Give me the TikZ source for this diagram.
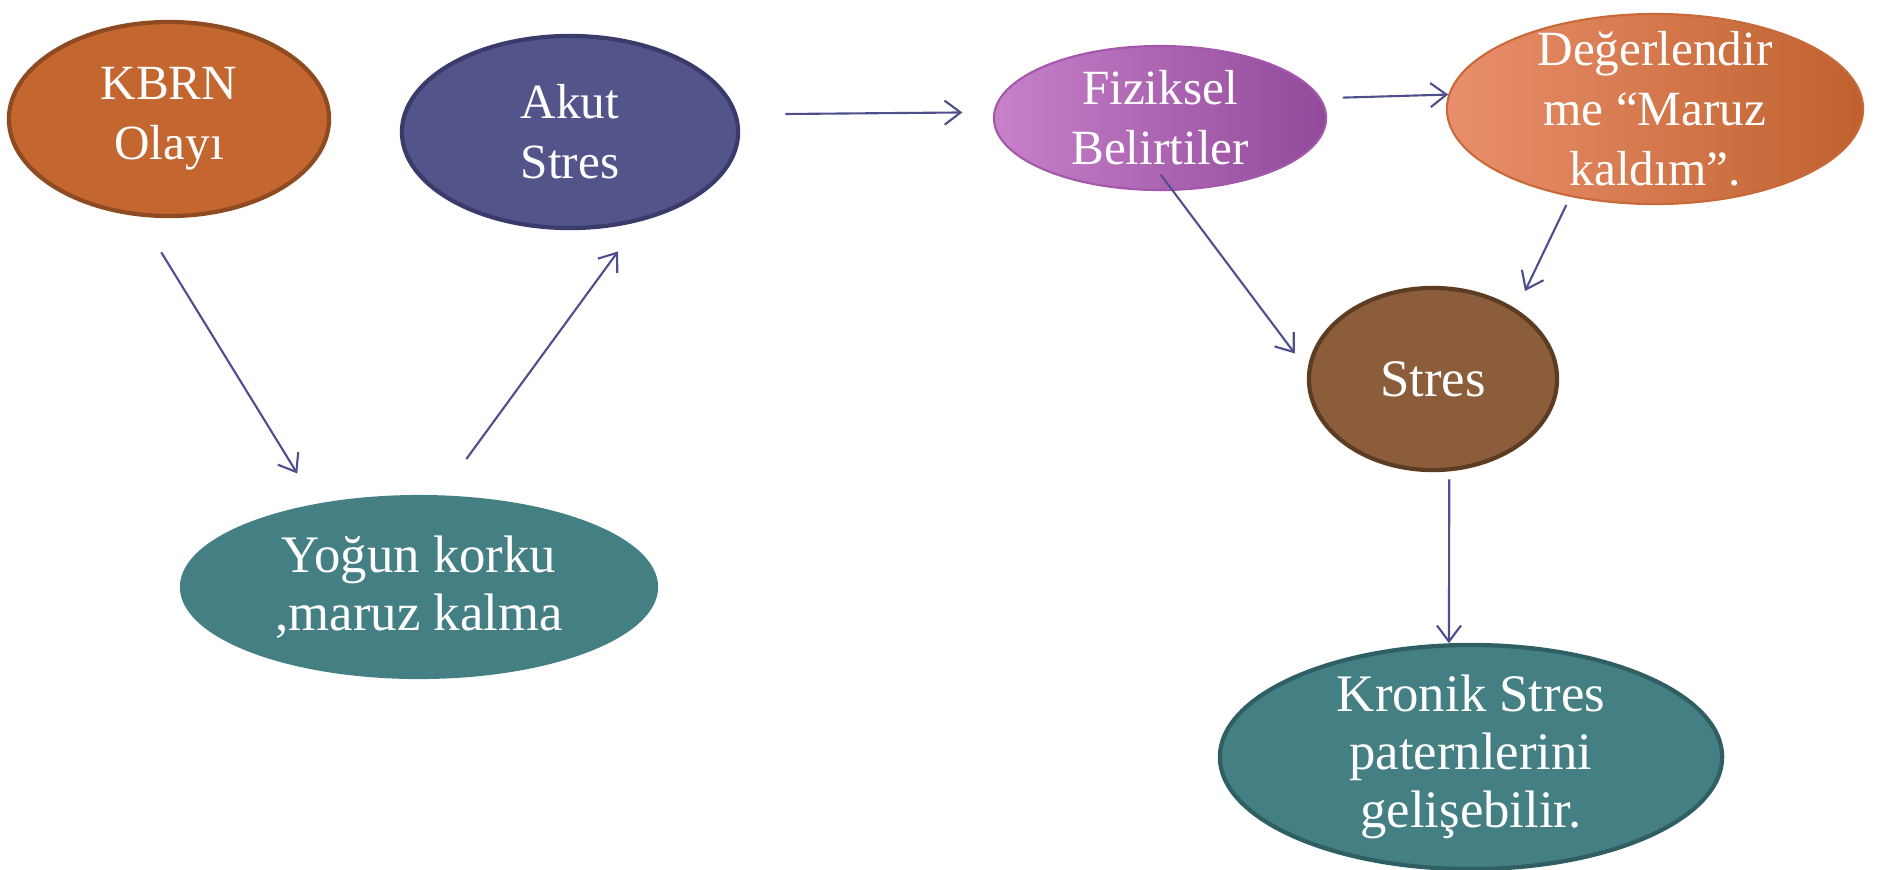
\documentclass[tikz,border=0pt]{standalone}
\usepackage{fontspec}
\setmainfont{Liberation Serif}
\usetikzlibrary{arrows.meta,shapes.geometric}
\definecolor{kbrnfill}{HTML}{C3662F}
\definecolor{kbrnline}{HTML}{8E4A20}
\definecolor{akutfill}{HTML}{535489}
\definecolor{akutline}{HTML}{3A3B6A}
\definecolor{fizleft}{HTML}{C880CA}
\definecolor{fizright}{HTML}{914A9A}
\definecolor{fizline}{HTML}{A458AC}
\definecolor{degleft}{HTML}{EA8F6D}
\definecolor{degright}{HTML}{BF612D}
\definecolor{degline}{HTML}{C8693A}
\definecolor{stresfill}{HTML}{8B5D3B}
\definecolor{stresline}{HTML}{5C3D24}
\definecolor{tealfill}{HTML}{447F84}
\definecolor{tealline}{HTML}{2F5F63}
\definecolor{linkcol}{HTML}{4E4E8C}

\begin{document}
\begin{tikzpicture}[x=0.01cm, y=-0.01cm,
		bubble/.style={ellipse, inner sep=-4mm, align=center, text=white, font=\fontsize{14}{17}\selectfont},
		wide/.style={font=\fontsize{15}{16.5}\selectfont},
		link/.style={draw=linkcol, line width=0.6pt, -{Straight Barb[length=1.6mm,width=2.4mm]}}]
	\useasboundingbox (0,0) rectangle (1883,869);

	\node[bubble, fill=kbrnfill, draw=kbrnline, line width=1.2pt, minimum width=3.20cm, minimum height=1.94cm] (kbrn)   at ( 169, 119) {KBRN\\Olayı};
	\node[bubble, fill=akutfill, draw=akutline, line width=1.2pt, minimum width=3.36cm, minimum height=1.92cm] (akut)   at ( 570, 132) {Akut\\Stres};
	\node[bubble, wide, fill=tealfill, minimum width=4.78cm, minimum height=1.84cm]                            (yogun)  at ( 419, 587) {Yoğun korku\\,maruz kalma};

	\node[bubble, left color=fizleft, right color=fizright, draw=fizline, line width=0.6pt, minimum width=3.32cm, minimum height=1.44cm] (fiz) at (1160, 118) {Fiziksel\\Belirtiler};
	\node[bubble, left color=degleft, right color=degright, draw=degline, line width=0.6pt, minimum width=4.16cm, minimum height=1.90cm] (deg) at (1655, 109) {Değerlendir\\me “Maruz\\kaldım”.};
	\node[bubble, wide, fill=stresfill, draw=stresline, line width=1.2pt, minimum width=2.48cm, minimum height=1.82cm] (stres)  at (1433, 379) {Stres};
	\node[bubble, wide, fill=tealfill, draw=tealline, line width=1.2pt, minimum width=5.02cm, minimum height=2.24cm]   (kronik) at (1471, 757) {Kronik Stres\\paternlerini\\gelişebilir.};

	\draw[link, shorten <=0.42cm, shorten >=0.35cm] (kbrn.-107) -- (yogun.141);
	\draw[link, shorten <=0.44cm, shorten >=0.37cm] (yogun.77)  -- (akut.-52);
	\draw[link, shorten <=0.48cm, shorten >=0.31cm] (akut.6.6)  -- (fiz.178.3);
	\draw[link, shorten <=0.22cm]                   (fiz.7.5)   -- (deg.176.7);
	\draw[link, shorten <=-0.2cm, shorten >=0.21cm] (fiz.-80.4) -- (stres.176);
	\draw[link, shorten <=0.09cm, shorten >=0.2cm]  (deg.-134)  -- (stres.40.5);
	\draw[link, shorten <=0.08cm]                   (stres.-80.6) -- (kronik.101.7);
\end{tikzpicture}
\end{document}
